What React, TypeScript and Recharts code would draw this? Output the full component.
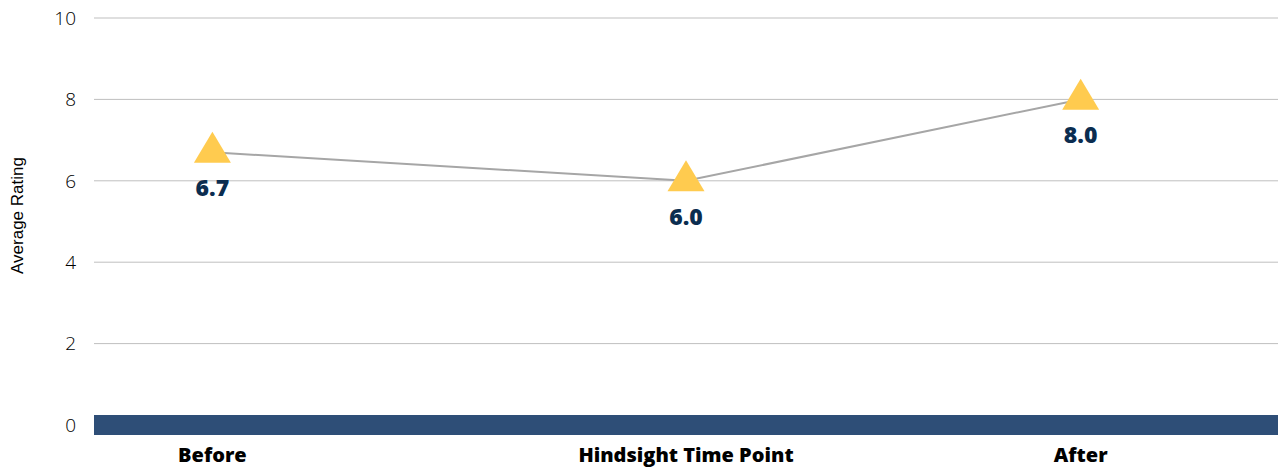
import React from "react";
import { LineChart, Line, XAxis, YAxis, CartesianGrid, LabelList } from "recharts";

const categories = ["Before", "Hindsight Time Point", "After"];
const positions = [0.6, 3, 5];
const ratings = [6.7, 6.0, 8.0];
const yTicks = [0, 2, 4, 6, 8, 10];

const data = categories.map((c, i) => ({ name: c, x: positions[i], rating: ratings[i] }));

const Triangle = (props: any) => {
  const { cx, cy } = props;
  if (cx == null || cy == null) return null;
  const w = 37;
  const h = 31;
  const pts = `${cx},${cy - (2 * h) / 3} ${cx + w / 2},${cy + h / 3} ${cx - w / 2},${cy + h / 3}`;
  return <polygon points={pts} fill="#FFCB4F" />;
};

const ValueLabel = (props: any) => {
  const { x, y, value } = props;
  return (
    <text
      x={x}
      y={y + 35}
      textAnchor="middle"
      dominantBaseline="central"
      fill="#0B2D50"
      style={{ fontFamily: "'Open Sans', sans-serif", fontWeight: 800, fontSize: 23 }}
    >
      {Number(value).toFixed(1)}
    </text>
  );
};

export default function App() {
  return (
    <div style={{ position: "absolute", left: 0, top: 0, width: 1281, height: 469, background: "#fff" }}>
      <LineChart width={1281} height={469} data={data} margin={{ top: 18, right: 3, left: 0, bottom: 14 }}>
        <CartesianGrid horizontal={true} vertical={false} stroke="#BFBFBF" strokeWidth={1} />
        <XAxis
          dataKey="x"
          type="number"
          domain={[0, 6]}
          ticks={positions}
          tickFormatter={(v: number) => categories[positions.indexOf(v)] ?? ""}
          axisLine={{ stroke: "#2E4E77", strokeWidth: 20 }}
          tickLine={false}
          tickSize={0}
          tickMargin={23}
          tick={{ fill: "#000", fontFamily: "'Open Sans', sans-serif", fontWeight: 800, fontSize: 20 }}
          interval={0}
        />
        <YAxis
          domain={[0, 10]}
          ticks={yTicks}
          width={94}
          axisLine={false}
          tickLine={false}
          tickSize={0}
          tickMargin={18}
          tick={{ fill: "#000", fontFamily: "'Open Sans', sans-serif", fontWeight: 300, fontSize: 19 }}
          label={{
            value: "Average Rating",
            angle: -90,
            position: "insideLeft",
            offset: 0,
            dx: 17,
            dy: -6,
            style: { textAnchor: "middle", fill: "#000", fontFamily: "'Liberation Sans', Arial, sans-serif", fontSize: 17 },
          }}
        />
        <Line
          dataKey="rating"
          stroke="#A6A6A6"
          strokeWidth={2}
          dot={<Triangle />}
          activeDot={false}
          isAnimationActive={false}
        >
          <LabelList dataKey="rating" content={<ValueLabel />} />
        </Line>
      </LineChart>
    </div>
  );
}
